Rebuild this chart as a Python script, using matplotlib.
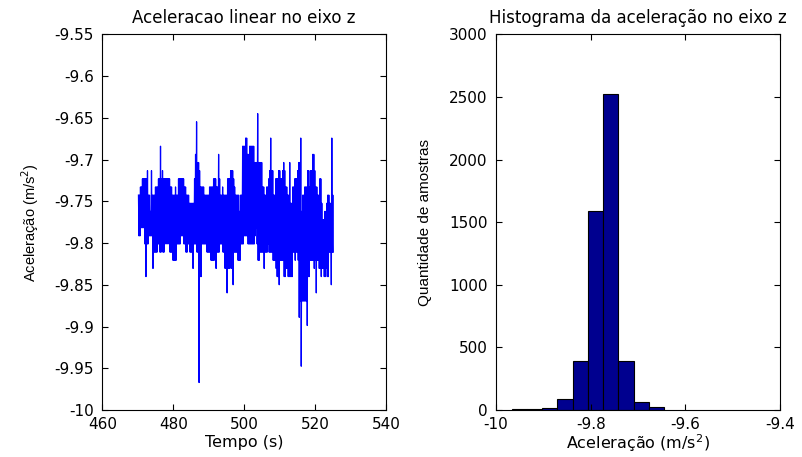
import numpy as np
import matplotlib
matplotlib.use("Agg")
import matplotlib.pyplot as plt

# Z-axis accelerometer record, stored as min/max envelope per display bucket
# in sensor quantisation levels: value = TOP_LEVEL - LEVEL_STEP * level
TOP_LEVEL = -9.645
LEVEL_STEP = 0.00976
T_START = 470.2
T_END = 525.0

upper_level = [
    10, 10, 9, 9, 8, 8, 8, 8, 8, 7, 10, 10, 12, 7, 10, 10, 10, 9, 9, 9,
    8, 8, 4, 8, 7, 8, 8, 8, 8, 8, 8, 8, 9, 9, 10, 10, 10, 9, 10, 10,
    8, 8, 8, 8, 8, 8, 9, 9, 10, 10, 10, 11, 11, 11, 11, 11, 8, 5, 1, 6,
    6, 7, 9, 9, 9, 9, 10, 10, 10, 10, 10, 9, 9, 9, 9, 8, 8, 8, 9, 9,
    5, 8, 10, 10, 9, 10, 10, 10, 10, 8, 8, 8, 7, 7, 7, 8, 9, 10, 10, 10,
    10, 12, 10, 10, 4, 4, 4, 3, 3, 5, 5, 4, 4, 4, 4, 4, 6, 6, 6, 0,
    6, 6, 6, 6, 9, 9, 10, 10, 9, 9, 8, 7, 3, 7, 7, 10, 10, 8, 8, 8,
    7, 7, 8, 8, 7, 6, 7, 9, 9, 10, 10, 6, 11, 11, 9, 9, 8, 8, 8, 7,
    6, 6, 3, 12, 10, 10, 9, 9, 9, 7, 7, 9, 7, 7, 5, 5, 7, 9, 9, 10,
    10, 8, 8, 11, 13, 13, 12, 12, 11, 10, 10, 11, 11, 3, 10,
]
lower_level = [
    15, 15, 14, 14, 14, 14, 16, 20, 16, 16, 15, 15, 15, 15, 19, 17, 17, 17, 17, 16,
    16, 17, 17, 15, 17, 17, 16, 15, 16, 15, 16, 17, 17, 17, 18, 18, 18, 18, 16, 16,
    16, 16, 15, 15, 15, 16, 16, 17, 17, 16, 16, 17, 17, 17, 19, 16, 16, 16, 17, 17,
    33, 20, 20, 16, 16, 16, 16, 16, 17, 17, 17, 17, 18, 18, 18, 18, 17, 19, 17, 17,
    17, 16, 16, 16, 17, 17, 19, 19, 22, 19, 19, 17, 19, 17, 21, 17, 17, 17, 17, 18,
    18, 18, 16, 16, 16, 15, 15, 15, 15, 16, 16, 16, 16, 16, 16, 16, 15, 14, 16, 18,
    18, 17, 17, 17, 17, 19, 17, 17, 17, 16, 17, 17, 17, 17, 18, 18, 18, 19, 20, 20,
    21, 18, 18, 18, 18, 20, 20, 19, 19, 20, 20, 20, 20, 20, 17, 17, 18, 17, 17, 18,
    25, 23, 31, 23, 23, 23, 23, 23, 26, 20, 20, 18, 18, 18, 18, 19, 18, 22, 18, 18,
    19, 19, 20, 19, 19, 20, 20, 19, 20, 20, 17, 17, 21, 17, 17,
]

# Histogram of the full record (10 bins between the extreme samples)
hist_min = -9.967
hist_max = -9.645
hist_counts = [5, 5, 14, 85, 390, 1590, 2520, 390, 66, 22]

# Rebuild the plotted trace: max then min sample in each bucket
n = len(upper_level)
t_bucket = np.linspace(T_START, T_END, n)
dt = t_bucket[1] - t_bucket[0]
t = np.empty(2 * n)
lv = np.empty(2 * n)
t[0::2] = t_bucket
t[1::2] = t_bucket + dt / 2
lv[0::2] = upper_level
lv[1::2] = lower_level
accel = TOP_LEVEL - LEVEL_STEP * lv

plt.rcParams['font.family'] = ['DejaVu Sans']
YLAB_FONT = ['Liberation Sans', 'DejaVu Sans']
W, H = 802, 457
fig = plt.figure(figsize=(W / 100, H / 100), dpi=100)


def box_axes(x0, x1, y0, y1):
    ax = fig.add_axes([x0 / W, 1 - y1 / H, (x1 - x0) / W, (y1 - y0) / H])
    ax.tick_params(direction='in', top=True, right=True, length=4,
                   width=0.8, labelsize=11)
    ax.tick_params(axis='x', pad=5)
    ax.tick_params(axis='y', pad=6)
    for s in ax.spines.values():
        s.set_linewidth(0.8)
    return ax


# Left: time series
ax1 = box_axes(102.3, 386, 34.3, 410)
ax1.plot(t, accel, color='#0000ff', lw=0.9)
ax1.set_xlim(460, 540)
ax1.set_ylim(-10, -9.55)
ax1.set_xticks([460, 480, 500, 520, 540])
yt = [-10, -9.95, -9.9, -9.85, -9.8, -9.75, -9.7, -9.65, -9.6, -9.55]
ax1.set_yticks(yt)
ax1.set_yticklabels([f"{v:g}" for v in yt])
ax1.set_title("Aceleracao linear no eixo z", fontsize=12, pad=8)
ax1.set_xlabel("Tempo (s)", fontsize=11.5, labelpad=2)
ax1.set_ylabel("Aceleração (m/s$^2$)", fontsize=10.5, family=YLAB_FONT,
               labelpad=10)

# Right: histogram
ax2 = box_axes(496, 780, 34.3, 410)
edges = np.linspace(hist_min, hist_max, len(hist_counts) + 1)
ax2.bar(edges[:-1], hist_counts, width=np.diff(edges), align='edge',
        color='#00008f', edgecolor='black', linewidth=0.8)
ax2.set_xlim(-10, -9.4)
ax2.set_ylim(0, 3000)
xt = [-10, -9.8, -9.6, -9.4]
ax2.set_xticks(xt)
ax2.set_xticklabels([f"{v:g}" for v in xt])
ax2.set_yticks(range(0, 3001, 500))
ax2.set_title("Histograma da aceleração no eixo z", fontsize=12, pad=8)
ax2.set_xlabel("Aceleração (m/s$^2$)", fontsize=11.5, labelpad=0)
ax2.set_ylabel("Quantidade de amostras", fontsize=11, family=YLAB_FONT,
               labelpad=12)

fig.savefig("out.png", dpi=100)
